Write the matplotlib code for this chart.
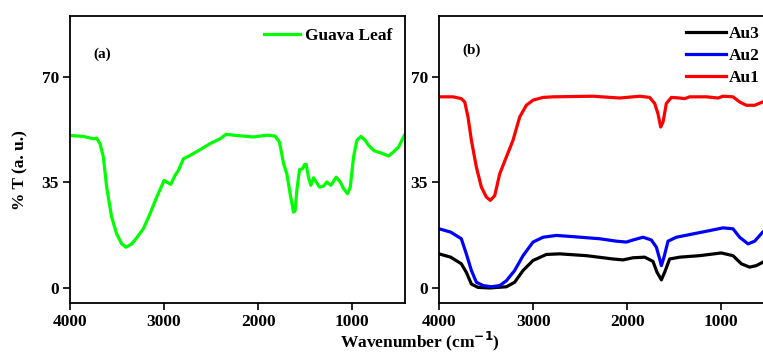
# ===========================
# ftir_guava_au.py
# ===========================
# FTIR spectra: (a) guava leaf extract, (b) Au1/Au2/Au3 nanoparticles
# ===========================

import matplotlib
matplotlib.use("Agg")
import matplotlib.pyplot as plt

plt.rcParams["font.family"] = ["Liberation Serif", "DejaVu Serif"]
plt.rcParams["font.weight"] = "bold"
plt.rcParams["mathtext.default"] = "bf"


# ---------------------------------------------
# Data
# ---------------------------------------------
guava_wn = [4000, 3858, 3752, 3716, 3681, 3645, 3610, 3557, 3504, 3450,
            3404, 3344, 3291, 3220, 3149, 3078, 3000, 2972, 2929, 2883,
            2848, 2794, 2723, 2617, 2511, 2404, 2340, 2262, 2050, 1908,
            1819, 1773, 1730, 1695, 1660, 1624, 1606, 1589, 1560, 1528,
            1507, 1489, 1465, 1440, 1411, 1383, 1348, 1305, 1270, 1227,
            1170, 1128, 1092, 1050, 1021, 986, 950, 908, 862, 826,
            766, 702, 613, 560, 507, 447]
guava_t = [50.5, 50.2, 49.4, 49.6, 47.8, 43.4, 33.4, 23.5, 17.9, 14.6,
           13.5, 14.6, 16.6, 19.6, 24.6, 30.1, 35.6, 35.1, 34.3, 37.3,
           38.9, 42.8, 43.9, 45.8, 47.8, 49.4, 50.9, 50.6, 50.0, 50.6,
           50.3, 48.3, 41.2, 37.8, 31.2, 25.1, 25.7, 32.3, 39.2, 39.5,
           40.9, 40.9, 36.7, 34.0, 36.5, 35.1, 33.4, 33.7, 35.1, 34.0,
           36.7, 35.1, 32.9, 31.2, 33.4, 43.4, 48.9, 50.2, 48.9, 47.2,
           45.4, 44.8, 43.7, 45.1, 46.7, 50.5]

au1_wn = [4000, 3851, 3763, 3727, 3692, 3656, 3603, 3550, 3497, 3455,
          3408, 3355, 3284, 3214, 3143, 3072, 3001, 2895, 2789, 2363,
          2080, 1867, 1761, 1708, 1673, 1644, 1619, 1584, 1531, 1442,
          1389, 1336, 1159, 1035, 982, 876, 805, 734, 645, 560, 500, 440]
au1_t = [63.3, 63.3, 62.7, 61.6, 56.6, 48.9, 40.0, 33.4, 30.1, 29.0,
         30.6, 37.8, 43.4, 48.9, 56.6, 60.5, 62.2, 63.1, 63.3, 63.5,
         62.9, 63.5, 63.1, 61.1, 57.7, 53.3, 55.0, 61.1, 63.1, 62.9,
         62.7, 63.3, 63.3, 62.9, 63.5, 63.3, 61.6, 60.5, 60.5, 61.6, 62.0, 62.5]

au2_wn = [4000, 3876, 3763, 3710, 3656, 3603, 3532, 3444, 3355, 3284,
          3196, 3107, 3001, 2895, 2753, 2576, 2293, 2116, 2009, 1938,
          1832, 1744, 1690, 1655, 1637, 1609, 1566, 1478, 1301, 1124,
          982, 876, 805, 716, 645, 560, 500, 440]
au2_t = [19.6, 18.5, 16.3, 11.3, 5.8, 1.9, 0.8, 0.4, 0.8, 2.4,
         5.8, 10.7, 15.2, 16.8, 17.4, 17.0, 16.3, 15.5, 15.2, 15.9,
         16.8, 15.9, 13.5, 9.6, 7.4, 10.2, 15.5, 16.8, 17.9, 19.0,
         19.9, 19.6, 16.8, 14.6, 15.5, 18.5, 20.0, 21.0]

au3_wn = [4000, 3876, 3763, 3710, 3656, 3586, 3462, 3284, 3196, 3107,
          3001, 2859, 2718, 2434, 2151, 2045, 1938, 1814, 1726, 1683,
          1637, 1602, 1549, 1442, 1230, 1000, 876, 787, 699, 628, 560, 500, 440]
au3_t = [11.3, 10.2, 8.0, 5.2, 1.3, 0.2, 0.0, 0.4, 1.9, 5.8,
         9.1, 11.1, 11.3, 10.7, 9.6, 9.3, 10.0, 10.2, 8.8, 5.2,
         2.7, 5.2, 9.6, 10.2, 10.7, 11.6, 10.7, 8.0, 6.9, 7.4, 8.5, 9.5, 10.0]

x_ticks = [4000, 3000, 2000, 1000]
y_ticks = [0, 35, 70]


# ---------------------------------------------
# Axes styling helper
# ---------------------------------------------
def style_axes(ax):
    ax.set_xlim(4000, 440)
    ax.set_ylim(-5, 90)
    ax.set_xticks(x_ticks)
    ax.set_yticks(y_ticks)
    ax.tick_params(direction="out", length=5, width=1.2, labelsize=12.5, pad=3)
    for lbl in ax.get_xticklabels() + ax.get_yticklabels():
        lbl.set_fontweight("bold")
    for sp in ax.spines.values():
        sp.set_linewidth(1.3)


# ---------------------------------------------
# Figure
# ---------------------------------------------
fig = plt.figure(figsize=(7.63, 3.52), dpi=100)

ax_a = fig.add_axes([0.0917, 0.139, 0.439, 0.815])
ax_b = fig.add_axes([0.5754, 0.139, 0.439, 0.815])

# (a) guava leaf
ax_a.plot(guava_wn, guava_t, color="#00ff00", lw=2.3, solid_joinstyle="round",
          label="Guava Leaf")
style_axes(ax_a)
ax_a.set_ylabel("% T (a. u.)", fontsize=12.5, fontweight="bold")
ax_a.yaxis.set_label_coords(-0.125, 0.463)
ax_a.text(0.069, 0.868, "(a)", transform=ax_a.transAxes, fontsize=11,
          fontweight="bold", va="center")
ax_a.legend(loc="upper right", frameon=False, fontsize=12.5, handlelength=2.1,
            handletextpad=0.3, borderaxespad=0.3, bbox_to_anchor=(1.0, 1.0))

# (b) Au nanoparticles
ax_b.plot(au3_wn, au3_t, color="black", lw=2.3, solid_joinstyle="round", label="Au3")
ax_b.plot(au2_wn, au2_t, color="#0000ff", lw=2.3, solid_joinstyle="round", label="Au2")
ax_b.plot(au1_wn, au1_t, color="#ff0000", lw=2.3, solid_joinstyle="round", label="Au1")
style_axes(ax_b)
ax_b.text(0.069, 0.88, "(b)", transform=ax_b.transAxes, fontsize=11,
          fontweight="bold", va="center")
ax_b.legend(loc="upper left", frameon=False, fontsize=12.5, handlelength=2.3,
            handletextpad=0.2, labelspacing=0.35, borderaxespad=0.3,
            bbox_to_anchor=(0.70, 1.01))

fig.text(0.551, 0.029, "Wavenumber (cm$^{-1}$)", ha="center",
         va="center", fontsize=12.5, fontweight="bold")

fig.savefig("out.png", dpi=100)
